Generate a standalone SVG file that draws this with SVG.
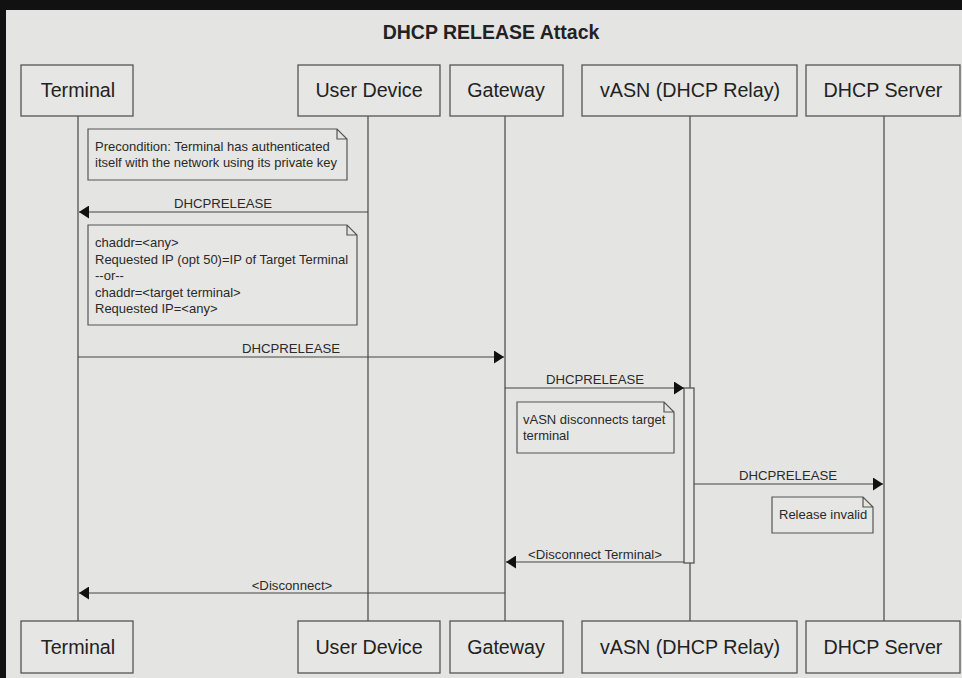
<svg xmlns="http://www.w3.org/2000/svg" width="962" height="678" viewBox="0 0 962 678">
<defs>
<marker id="ah" markerWidth="10" markerHeight="13" refX="10" refY="6.5" orient="auto" markerUnits="userSpaceOnUse">
<path d="M0,0 L10,6.5 L0,13 Z" fill="#111"/>
</marker>
<style>
.box{fill:#e6e6e4;stroke:#555;stroke-width:1.3}
.lbl{font-family:"Liberation Sans",Arial,sans-serif;font-size:19.7px;fill:#222;text-anchor:middle}
.life{stroke:#444;stroke-width:1.2;fill:none}
.msg{stroke:#444;stroke-width:1.2;fill:none;marker-end:url(#ah)}
.mt{font-family:"Liberation Sans",Arial,sans-serif;font-size:13.2px;fill:#2a2a2a;text-anchor:middle}
.note{fill:#e6e6e4;stroke:#555;stroke-width:1.2}
.nt{font-family:"Liberation Sans",Arial,sans-serif;font-size:13px;fill:#2a2a2a}
</style>
</defs>
<rect x="0" y="0" width="962" height="678" fill="#e4e5e3"/>
<rect x="0" y="0" width="962" height="10" fill="#111"/>
<rect x="0" y="0" width="6" height="678" fill="#111"/>
<text x="491" y="39" font-family="Liberation Sans,Arial,sans-serif" font-size="19.5" font-weight="bold" fill="#222" text-anchor="middle">DHCP RELEASE Attack</text>

<g id="lifelines">
<line class="life" x1="78" y1="116" x2="78" y2="621"/>
<line class="life" x1="368" y1="116" x2="368" y2="621"/>
<line class="life" x1="505" y1="116" x2="505" y2="621"/>
<line class="life" x1="690" y1="116" x2="690" y2="621"/>
<line class="life" x1="884" y1="116" x2="884" y2="621"/>
</g>

<g id="terminal">
<rect class="box" x="21" y="65" width="112" height="51"/>
<text class="lbl" x="78" y="97">Terminal</text>
<rect class="box" x="21" y="621" width="112" height="52"/>
<text class="lbl" x="78" y="654">Terminal</text>
</g>
<g id="user-device">
<rect class="box" x="298" y="65" width="142" height="51"/>
<text class="lbl" x="369" y="97">User Device</text>
<rect class="box" x="298" y="621" width="142" height="52"/>
<text class="lbl" x="369" y="654">User Device</text>
</g>
<g id="gateway">
<rect class="box" x="450" y="65" width="113" height="51"/>
<text class="lbl" x="506" y="97">Gateway</text>
<rect class="box" x="450" y="621" width="113" height="52"/>
<text class="lbl" x="506" y="654">Gateway</text>
</g>
<g id="vasn">
<rect class="box" x="582" y="65" width="215" height="51"/>
<text class="lbl" x="690" y="97">vASN (DHCP Relay)</text>
<rect class="box" x="582" y="621" width="215" height="52"/>
<text class="lbl" x="690" y="654">vASN (DHCP Relay)</text>
<rect class="box" x="684" y="388" width="10" height="175"/>
</g>
<g id="dhcp-server">
<rect class="box" x="806" y="65" width="154" height="51"/>
<text class="lbl" x="883" y="97">DHCP Server</text>
<rect class="box" x="806" y="621" width="154" height="52"/>
<text class="lbl" x="883" y="654">DHCP Server</text>
</g>

<g id="note-precondition">
<path class="note" d="M88,129 H337 L347,139 V180 H88 Z M337,129 V139 H347"/>
<text class="nt" x="95" y="151">Precondition: Terminal has authenticated</text>
<text class="nt" x="95" y="167">itself with the network using its private key</text>
</g>
<g id="note-chaddr">
<path class="note" d="M88,225 H347 L357,235 V325 H88 Z M347,225 V235 H357"/>
<text class="nt" x="95" y="247">chaddr=&lt;any&gt;</text>
<text class="nt" x="95" y="264">Requested IP (opt 50)=IP of Target Terminal</text>
<text class="nt" x="95" y="280">--or--</text>
<text class="nt" x="95" y="297">chaddr=&lt;target terminal&gt;</text>
<text class="nt" x="95" y="313">Requested IP=&lt;any&gt;</text>
</g>
<g id="note-vasn">
<path class="note" d="M517,402 H664 L674,412 V453 H517 Z M664,402 V412 H674"/>
<text class="nt" x="523" y="424">vASN disconnects target</text>
<text class="nt" x="523" y="440">terminal</text>
</g>
<g id="note-invalid">
<path class="note" d="M772,497 H863 L873,507 V533 H772 Z M863,497 V507 H873"/>
<text class="nt" x="779" y="519">Release invalid</text>
</g>

<g id="connectors">
<line class="msg" x1="368" y1="212" x2="79" y2="212"/>
<text class="mt" x="223" y="208">DHCPRELEASE</text>
<line class="msg" x1="78" y1="357" x2="504" y2="357"/>
<text class="mt" x="291" y="353">DHCPRELEASE</text>
<line class="msg" x1="505" y1="388" x2="684" y2="388"/>
<text class="mt" x="595" y="384">DHCPRELEASE</text>
<line class="msg" x1="694" y1="484" x2="883" y2="484"/>
<text class="mt" x="788" y="480">DHCPRELEASE</text>
<line class="msg" x1="684" y1="562" x2="506" y2="562"/>
<text class="mt" x="595" y="559">&lt;Disconnect Terminal&gt;</text>
<line class="msg" x1="505" y1="593" x2="79" y2="593"/>
<text class="mt" x="292" y="590">&lt;Disconnect&gt;</text>
</g>
</svg>
